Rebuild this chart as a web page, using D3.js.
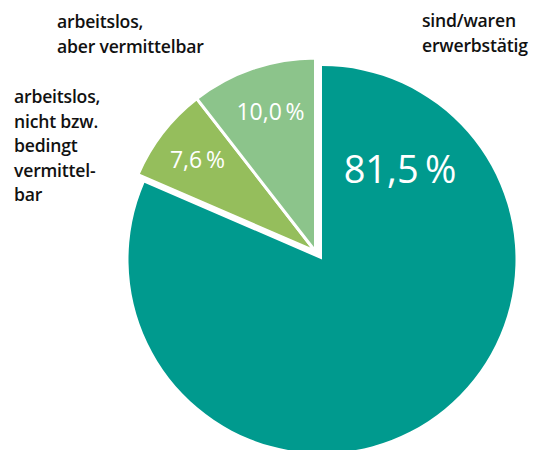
<!DOCTYPE html>
<meta charset="utf-8">
<script src="https://d3js.org/d3.v7.min.js"></script>
<style>
  body { margin: 0; background: #fff; }
</style>
<div id="chart"></div>
<script>

// shares in percent
const categories = ["sind/waren erwerbstätig", "arbeitslos, nicht bzw. bedingt vermittelbar", "arbeitslos, aber vermittelbar"];
const values = [81.5, 7.6, 10.0];
const valueLabels = ["81,5\u2009%", "7,6\u2009%", "10,0\u2009%"];
const categoryLines = [
    ["sind/waren", "erwerbstätig"],
    ["arbeitslos,", "nicht bzw.", "bedingt", "vermittel-", "bar"],
    ["arbeitslos,", "aber vermittelbar"]
];
const colors = ["#009a8e", "#95be5c", "#8cc48b"];

var width = 535, height = 450;
var cx = 322, cy = 259.5, radius = 193.5;

var svg = d3.select("#chart")
    .append("svg")
    .attr("width", width)
    .attr("height", height);

var angle = d3.scaleLinear().domain([0, 100]).range([0, 2 * Math.PI]);
var arc = d3.arc().innerRadius(0).outerRadius(radius);

var g = svg.append("g")
    .attr("transform", "translate(" + cx + "," + cy + ")");

// big slice from 12 o'clock, clockwise
var mainEnd = angle(values[0]);
g.append("path")
    .attr("d", arc({startAngle: 0, endAngle: mainEnd}))
    .attr("fill", colors[0]);

// the two small slices fill the rest and are pulled out a bit
var small = d3.pie().sort(null)
    .startAngle(mainEnd)
    .endAngle(2 * Math.PI)(values.slice(1));

var gs = g.append("g")
    .attr("transform", "translate(-6.5,-8)");

gs.selectAll("path")
    .data(small)
    .enter()
    .append("path")
    .attr("d", arc)
    .attr("fill", function (d, i) { return colors[i + 1]; })
    .attr("stroke", "#fff")
    .attr("stroke-width", 3)
    .attr("stroke-linejoin", "miter");

// value labels
var valuePos = [[400, 183, 38], [197.5, 168, 23], [270.5, 120, 23]];
svg.selectAll(".val")
    .data(valueLabels)
    .enter()
    .append("text")
    .attr("class", "val")
    .attr("x", function (d, i) { return valuePos[i][0]; })
    .attr("y", function (d, i) { return valuePos[i][1]; })
    .attr("text-anchor", "middle")
    .attr("font-family", "'Open Sans', sans-serif")
    .attr("font-size", function (d, i) { return valuePos[i][2] + "px"; })
    .attr("fill", "#fff")
    .text(function (d) { return d; });

// category labels
var catPos = [[422, 27], [14, 103], [57, 28]];
categoryLines.forEach(function (lines, i) {
    var t = svg.append("text")
        .attr("x", catPos[i][0])
        .attr("y", catPos[i][1])
        .attr("font-family", "'Open Sans', sans-serif")
        .attr("font-weight", 600)
        .attr("font-size", "17.6px")
        .attr("letter-spacing", "-0.2px")
        .attr("fill", "#111");
    lines.forEach(function (line, j) {
        t.append("tspan")
            .attr("x", catPos[i][0])
            .attr("dy", j === 0 ? 0 : 24.5)
            .text(line);
    });
});

</script>
